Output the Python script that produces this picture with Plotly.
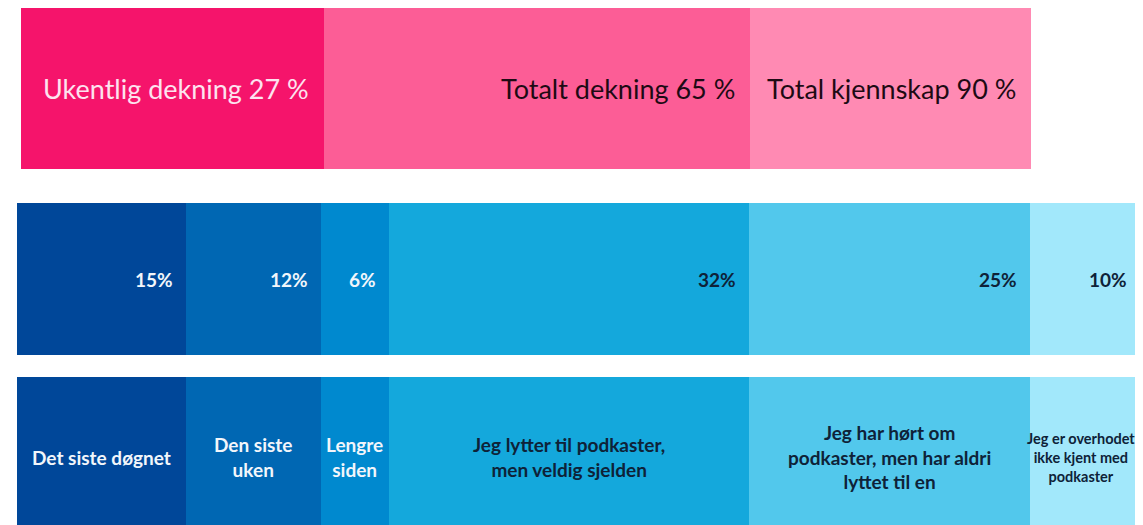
import plotly.graph_objects as go
import numpy as np

# ---- data ----
top_labels = ["Ukentlig dekning 27 %", "Totalt dekning 65 %", "Total kjennskap 90 %"]
top_values = [27, 38, 25]

seg_values = [15, 12, 6, 32, 25, 10]
seg_pct_labels = ["15%", "12%", "6%", "32%", "25%", "10%"]
seg_categories = [
    "Det siste døgnet",
    "Den siste<br>uken",
    "Lengre<br>siden",
    "Jeg lytter til podkaster,<br>men veldig sjelden",
    "Jeg har hørt om<br>podkaster, men har aldri<br>lyttet til en",
    "Jeg er overhodet<br>ikke kjent med<br>podkaster",
]

# ---- styles ----
top_colors = ["#F5146B", "#FC5D96", "#FF8AB3"]
top_text_colors = ["#FDE3EF", "#1E0A14", "#1E0A14"]
seg_colors = ["#004799", "#0067B3", "#0089CF", "#14A8DC", "#52C8EC", "#A2E8FB"]
seg_text_colors = ["#F2F6FB", "#F2F6FB", "#F2F6FB", "#0E2238", "#0E2238", "#0E2238"]
seg_cat_sizes = [19, 19, 19, 19, 19, 14.5]
seg_cat_shift = [0, 0, 0, 0, 0, -6]
seg_pct_shift = [-11, -11, -11, -11, -11, -14]

FONT = "Lato"

fig = go.Figure()

for v, c in zip(top_values, top_colors):
    fig.add_trace(go.Bar(x=[v], y=[0.5], orientation="h", width=1,
                         marker=dict(color=c, line=dict(width=0)),
                         xaxis="x", yaxis="y", hoverinfo="skip", showlegend=False))
for v, c in zip(seg_values, seg_colors):
    fig.add_trace(go.Bar(x=[v], y=[0.5], orientation="h", width=1,
                         marker=dict(color=c, line=dict(width=0)),
                         xaxis="x2", yaxis="y2", hoverinfo="skip", showlegend=False))
for v, c in zip(seg_values, seg_colors):
    fig.add_trace(go.Bar(x=[v], y=[0.5], orientation="h", width=1,
                         marker=dict(color=c, line=dict(width=0)),
                         xaxis="x3", yaxis="y3", hoverinfo="skip", showlegend=False))

annotations = []
top_cum = np.cumsum(top_values)
for lab, end, tc in zip(top_labels, top_cum, top_text_colors):
    annotations.append(dict(x=end, y=0.5, xref="x", yref="y", text=lab, showarrow=False,
                            xanchor="right", yanchor="middle", xshift=-13,
                            font=dict(family=FONT, size=27, color=tc)))

seg_cum = np.cumsum(seg_values)
for lab, end, tc, sh in zip(seg_pct_labels, seg_cum, seg_text_colors, seg_pct_shift):
    annotations.append(dict(x=end, y=0.5, xref="x2", yref="y2", text="<b>%s</b>" % lab, showarrow=False,
                            xanchor="right", yanchor="middle", xshift=sh,
                            font=dict(family=FONT, size=19, color=tc)))

for lab, end, v, tc, fs, sh in zip(seg_categories, seg_cum, seg_values, seg_text_colors,
                                   seg_cat_sizes, seg_cat_shift):
    annotations.append(dict(x=end - v / 2, y=0.5, xref="x3", yref="y3", text="<b>%s</b>" % lab,
                            showarrow=False, xanchor="center", yanchor="middle", align="center",
                            xshift=sh, font=dict(family=FONT, size=fs, color=tc)))

W, H = 1135, 517
SX = 11.26
ax_common = dict(visible=False, showgrid=False, zeroline=False, fixedrange=True)
fig.update_layout(
    width=W, height=H,
    margin=dict(l=0, r=0, t=0, b=0),
    paper_bgcolor="white", plot_bgcolor="white",
    barmode="stack", bargap=0,
    showlegend=False,
    annotations=annotations,
    xaxis=dict(domain=[0, 1], range=[-13 / 11.222, (W - 13) / 11.222], anchor="y", **ax_common),
    yaxis=dict(domain=[1 - 161 / H, 1], range=[0, 1], anchor="x", **ax_common),
    xaxis2=dict(domain=[0, 1], range=[-9 / SX, (W - 9) / SX], anchor="y2", **ax_common),
    yaxis2=dict(domain=[1 - 347 / H, 1 - 195 / H], range=[0, 1], anchor="x2", **ax_common),
    xaxis3=dict(domain=[0, 1], range=[-9 / SX, (W - 9) / SX], anchor="y3", **ax_common),
    yaxis3=dict(domain=[0, 1 - 369 / H], range=[0.075, 1], anchor="x3", **ax_common),
)

fig.write_html("out.html")
